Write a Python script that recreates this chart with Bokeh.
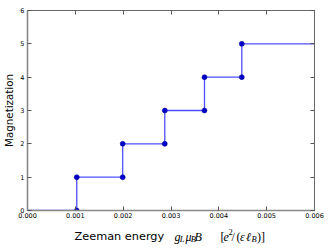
from bokeh.plotting import figure
from bokeh.layouts import column
from bokeh.models import Range1d, LinearAxis, FixedTicker, NumeralTickFormatter
from bokeh.core.properties import value
from bokeh.embed import file_html
from bokeh.resources import INLINE

# ---- data ----
jump_fields = [0.00103, 0.00199, 0.00287, 0.00370, 0.00448]   # Zeeman energy at each step
levels = [0, 1, 2, 3, 4, 5]                                    # magnetization plateaus
x_ticks = [0.000, 0.001, 0.002, 0.003, 0.004, 0.005, 0.006]
y_ticks = [0, 1, 2, 3, 4, 5, 6]
x_min, x_max = 0.0, 0.006
y_min, y_max = 0, 6

# build staircase from the data
line_x, line_y = [x_min], [levels[0]]
mark_x, mark_y = [], []
for i, xj in enumerate(jump_fields):
    line_x += [xj, xj]
    line_y += [levels[i], levels[i + 1]]
    mark_x += [xj, xj]
    mark_y += [levels[i], levels[i + 1]]
line_x.append(x_max)
line_y.append(levels[-1])

W = 332
p = figure(width=W, height=220, output_backend="svg", toolbar_location=None,
           x_range=Range1d(x_min, x_max), y_range=Range1d(y_min, y_max),
           min_border_left=27, min_border_right=18, min_border_top=10, min_border_bottom=7)
p.background_fill_color = "white"
p.border_fill_color = "white"
p.grid.visible = False
p.outline_line_color = "#777777"
p.outline_line_width = 1

p.line(line_x, line_y, line_color="#2222ff", line_alpha=0.8, line_width=1.3)
p.scatter(mark_x, mark_y, marker="circle", size=5, fill_color="#0000cc",
          line_color="#000088", line_width=0.5)

for ax in (p.xaxis[0], p.yaxis[0]):
    ax.major_tick_in = 4
    ax.major_tick_out = 0
    ax.minor_tick_line_color = None
    ax.axis_line_color = "#888888"
    ax.axis_line_width = 1.6
    ax.major_tick_line_color = "#555555"
    ax.major_label_text_font = "DejaVu Sans"
    ax.major_label_text_font_size = "6.5px"
    ax.major_label_text_color = "black"
    ax.major_label_standoff = 2
p.xaxis[0].ticker = FixedTicker(ticks=x_ticks)
p.xaxis[0].formatter = NumeralTickFormatter(format="0.000")
p.yaxis[0].ticker = FixedTicker(ticks=y_ticks)
p.yaxis[0].major_label_standoff = 3
p.yaxis[0].axis_label = "Magnetization"
p.yaxis[0].axis_label_text_font = "DejaVu Sans"
p.yaxis[0].axis_label_text_font_size = "10.3px"
p.yaxis[0].axis_label_text_font_style = "normal"
p.yaxis[0].axis_label_text_color = "black"
p.yaxis[0].axis_label_standoff = 2

# mirrored ticks on top and right
top = LinearAxis(ticker=FixedTicker(ticks=x_ticks),
                 major_label_overrides={t: "" for t in x_ticks})
right = LinearAxis(ticker=FixedTicker(ticks=y_ticks),
                   major_label_overrides={t: "" for t in y_ticks})
for ax in (top, right):
    ax.major_tick_in = 4
    ax.major_tick_out = 0
    ax.minor_tick_line_color = None
    ax.axis_line_color = "#666666"
    ax.axis_line_width = 1
    ax.major_tick_line_color = "#555555"
    ax.major_label_text_font_size = "1px"
    ax.major_label_standoff = 0
p.add_layout(top, "above")
p.add_layout(right, "right")

# ---- x axis label (mixed text + math-style pieces) in its own strip ----
q = figure(width=W, height=29, output_backend="svg", toolbar_location=None,
           x_range=p.x_range, y_range=Range1d(0, 29),
           x_axis_location=None, y_axis_location=None,
           min_border_left=27, min_border_right=18,
           min_border_top=0, min_border_bottom=0)
q.grid.visible = False
q.outline_line_color = None
q.background_fill_color = "white"
q.border_fill_color = "white"

xc = (x_min + x_max) / 2
base = 13
# (text, pixel offset from axis centre, dy, size, font, style)
pieces = [
    ("Zeeman energy", -96.5, 0, "11.3px", "DejaVu Sans", "normal"),
    ("g", 3.5, 0, "12px", "Liberation Serif", "italic"),
    ("L", 8.8, -2.5, "8.5px", "Liberation Serif", "italic"),
    ("μ", 14.5, 0, "12px", "Liberation Serif", "italic"),
    ("B", 19.8, -2.5, "8.5px", "Liberation Serif", "italic"),
    ("B", 23.5, 0, "12px", "Liberation Serif", "italic"),
    ("[", 49.5, 0, "12px", "Liberation Serif", "normal"),
    ("e", 52.5, 0, "12px", "Liberation Serif", "italic"),
    ("2", 57.5, 4.5, "8.5px", "Liberation Serif", "normal"),
    ("/", 60.5, 0, "12px", "Liberation Serif", "normal"),
    ("(", 65.5, 0, "12px", "Liberation Serif", "normal"),
    ("ε", 69.0, 0, "12px", "Liberation Serif", "italic"),
    ("ℓ", 75.0, 0, "12px", "Liberation Serif", "italic"),
    ("B", 80.5, -2.5, "8.5px", "Liberation Serif", "italic"),
    (")]", 86.0, 0, "12px", "Liberation Serif", "normal"),
]
for txt, dx, dy, size, font, style in pieces:
    q.text(x=[xc], y=[base + dy], text=[txt], x_offset=dx, text_align="left",
           text_baseline="alphabetic", text_font=value(font),
           text_font_size=value(size), text_font_style=style, text_color="black")

layout = column(p, q, spacing=0)
open("out.html", "w").write(file_html(layout, INLINE))
